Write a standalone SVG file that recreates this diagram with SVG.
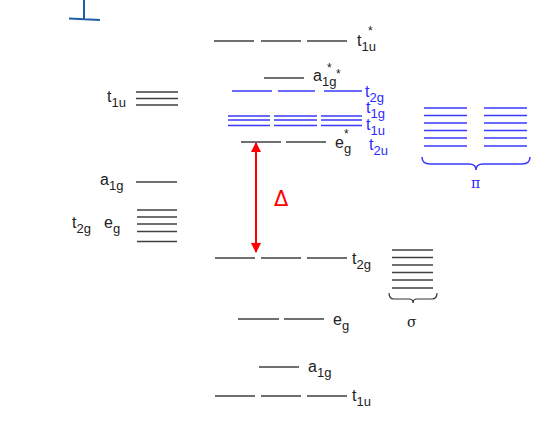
<svg xmlns="http://www.w3.org/2000/svg" width="559" height="424" viewBox="0 0 559 424">
<style>
.k{stroke:#404040;stroke-width:1.5;fill:none}
.b{stroke:#3a3aff;stroke-width:1.5;fill:none}
text{font-family:"Liberation Sans",Arial,sans-serif;font-size:16px;fill:#222}
.bt{fill:#2b2bff}
.s{font-size:13px}
.st{font-size:12px}
</style>
<defs>
<marker id="ah" viewBox="0 0 10 10" refX="9" refY="5" markerWidth="10" markerHeight="10" markerUnits="userSpaceOnUse" orient="auto-start-reverse"><path d="M0,0 L10,5 L0,10 Z" fill="#ff0000"/></marker>
</defs>
<rect width="559" height="424" fill="#fff"/>
<g id="corner-mark"><path d="M84,0 V19 M69,18.5 L100,20" stroke="#1d5fa6" stroke-width="2" fill="none"/></g>

<g id="connectors">
<line x1="256" y1="252" x2="256" y2="143" stroke="#ff0000" stroke-width="2" marker-end="url(#ah)" marker-start="url(#ah)"/>
</g>

<g id="mo-t1u-star"><path class="k" d="M214,41H254M261,41H301M307,41H347"/>
<text x="357" y="46">t<tspan class="s" dy="5">1u</tspan></text><text class="st" x="368" y="35">*</text></g>
<g id="mo-a1g-star"><path class="k" d="M264,78H304"/>
<text x="313" y="81">a<tspan class="s" dy="5">1g</tspan></text><text class="st" x="327" y="72">*</text><text class="st" x="336" y="78">*</text></g>
<g id="pi-t2g"><path class="b" d="M232,91H272M278,91H315M324,91H362"/>
<text class="bt" x="365" y="97">t<tspan class="s" dy="5">2g</tspan></text></g>
<g id="pi-t1g"><path class="b" d="M228,116H270M274,116H317M321,116H362M228,120H270M274,120H317M321,120H362"/>
<text class="bt" x="366" y="113">t<tspan class="s" dy="5">1g</tspan></text></g>
<g id="pi-t1u"><path class="b" d="M228,125.5H270M274,125.5H317M321,125.5H362"/>
<text class="bt" x="366" y="130">t<tspan class="s" dy="5">1u</tspan></text></g>
<g id="mo-eg-star"><path class="k" d="M241,142H281M286,142H326"/>
<text x="335" y="148">e<tspan class="s" dy="5">g</tspan></text><text class="st" x="344" y="138">*</text></g>
<g id="pi-t2u"><text class="bt" x="369" y="150">t<tspan class="s" dy="5">2u</tspan></text></g>
<g id="delta"><text x="274" y="206" style="fill:#ff0000;font-family:'DejaVu Sans',sans-serif;font-size:21px">Δ</text></g>
<g id="mo-t2g"><path class="k" d="M215,258H255M261,258H301M307,258H347"/>
<text x="352" y="264">t<tspan class="s" dy="5">2g</tspan></text></g>
<g id="mo-eg"><path class="k" d="M238,319H279M284,319H324"/>
<text x="333" y="325">e<tspan class="s" dy="5">g</tspan></text></g>
<g id="mo-a1g"><path class="k" d="M259,367H299"/>
<text x="308" y="372">a<tspan class="s" dy="5">1g</tspan></text></g>
<g id="mo-t1u"><path class="k" d="M215,396H255M261,396H301M307,396H347"/>
<text x="352" y="401">t<tspan class="s" dy="5">1u</tspan></text></g>

<g id="metal-t1u"><path class="k" d="M136,92H178M136,98.5H178M136,105H178"/>
<text x="107" y="102">t<tspan class="s" dy="5">1u</tspan></text></g>
<g id="metal-a1g"><path class="k" d="M136,182H177"/>
<text x="100" y="185">a<tspan class="s" dy="5">1g</tspan></text></g>
<g id="metal-t2g-eg"><path class="k" d="M137,210H177M137,217H177M137,224H177M137,231.5H177M137,241.5H177"/>
<text x="72" y="228">t<tspan class="s" dy="5">2g</tspan></text>
<text x="104" y="228">e<tspan class="s" dy="5">g</tspan></text></g>

<g id="sigma"><path class="k" d="M392,250H433M392,257.5H433M392,265H433M392,272.5H433M392,280H433M392,288H433"/>
<path d="M389,293 Q389,299 394,299 H409 Q413,299 413,303 Q413,299 417,299 H432 Q437,299 437,293" stroke="#333" stroke-width="1.2" fill="none"/>
<text x="407" y="327" style="font-family:'DejaVu Serif',serif;font-size:14px">σ</text></g>

<g id="pi"><path class="b" d="M424,108H467M424,115.5H467M424,123H467M424,130.5H467M424,138H467M424,146H467M484,108H527M484,115.5H527M484,123H527M484,130.5H527M484,138H527M484,146H527"/>
<path d="M422,157 Q422,164 430,164 H469 Q476,164 476,170 Q476,164 483,164 H522 Q530,164 530,157" stroke="#3a3aff" stroke-width="1.5" fill="none"/>
<text class="bt" x="471" y="188" style="font-family:'DejaVu Serif',serif;font-size:14px">π</text></g>
</svg>
